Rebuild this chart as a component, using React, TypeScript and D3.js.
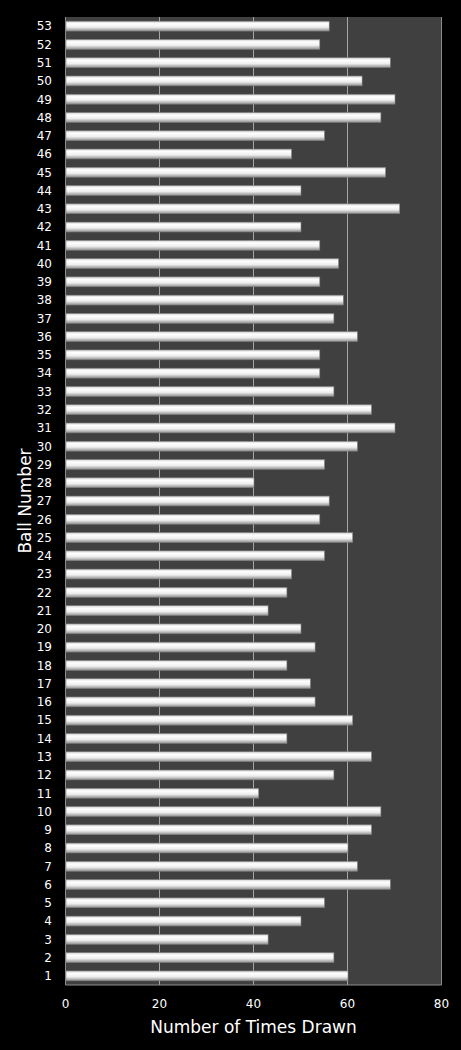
import { useEffect, useRef } from 'react'
import * as d3 from 'd3'

// Ball numbers 1..53 and the number of times each was drawn
const balls = [
  1, 2, 3, 4, 5, 6, 7, 8, 9, 10, 11, 12, 13, 14, 15, 16, 17, 18, 19, 20,
  21, 22, 23, 24, 25, 26, 27, 28, 29, 30, 31, 32, 33, 34, 35, 36, 37, 38, 39, 40,
  41, 42, 43, 44, 45, 46, 47, 48, 49, 50, 51, 52, 53,
]
const timesDrawn = [
  60, 57, 43, 50, 55, 69, 62, 60, 65, 67, 41, 57, 65, 47, 61, 53, 52, 47, 53, 50,
  43, 47, 48, 55, 61, 54, 56, 40, 55, 62, 70, 65, 57, 54, 54, 62, 57, 59, 54, 58,
  54, 50, 71, 50, 68, 48, 55, 67, 70, 63, 69, 54, 56,
]
const xTicks = [0, 20, 40, 60, 80]

const W = 461
const H = 1050
const plot = { left: 65.5, right: 441.5, top: 17, bottom: 985 }
const font = '"DejaVu Sans", Verdana, sans-serif'

export default function App() {
  const svgRef = useRef<SVGSVGElement>(null)

  useEffect(() => {
    if (!svgRef.current) return
    const svg = d3.select(svgRef.current)
    svg.selectAll('*').remove()

    const x = d3.scaleLinear().domain([0, 80]).range([plot.left, plot.right])
    const y = d3.scaleBand<number>()
      .domain([...balls].reverse())
      .range([plot.top, plot.bottom])
      .paddingInner(0.46)
      .paddingOuter(0.23)

    // bar gradient (Excel-like cylinder look)
    const defs = svg.append('defs')
    const grad = defs.append('linearGradient')
      .attr('id', 'barGrad')
      .attr('x1', 0).attr('y1', 0).attr('x2', 0).attr('y2', 1)
    grad.append('stop').attr('offset', '0%').attr('stop-color', '#d0d0d0')
    grad.append('stop').attr('offset', '25%').attr('stop-color', '#ffffff')
    grad.append('stop').attr('offset', '60%').attr('stop-color', '#eeeeee')
    grad.append('stop').attr('offset', '100%').attr('stop-color', '#8f8f8f')

    svg.append('rect')
      .attr('width', W).attr('height', H)
      .attr('fill', '#000')

    // plot area
    svg.append('rect')
      .attr('x', plot.left).attr('y', plot.top)
      .attr('width', plot.right - plot.left)
      .attr('height', plot.bottom - plot.top)
      .attr('fill', '#404040')

    // vertical gridlines
    svg.append('g')
      .selectAll('line')
      .data(xTicks.slice(1))
      .join('line')
      .attr('x1', d => x(d)).attr('x2', d => x(d))
      .attr('y1', plot.top).attr('y2', plot.bottom)
      .attr('stroke', d => (d === 80 ? '#8c8c8c' : '#a6a6a6'))
      .attr('stroke-width', 1)

    // axis lines
    svg.append('line')
      .attr('x1', plot.left).attr('x2', plot.left)
      .attr('y1', plot.top).attr('y2', plot.bottom)
      .attr('stroke', '#8c8c8c')
    svg.append('line')
      .attr('x1', plot.left).attr('x2', plot.right)
      .attr('y1', plot.bottom).attr('y2', plot.bottom)
      .attr('stroke', '#8c8c8c')

    // bars
    svg.append('g')
      .selectAll('rect')
      .data(balls)
      .join('rect')
      .attr('x', x(0) + 0.5)
      .attr('y', d => y(d)!)
      .attr('width', (d, i) => x(timesDrawn[i]) - x(0))
      .attr('height', y.bandwidth())
      .attr('fill', 'url(#barGrad)')
      .attr('stroke', '#808080')
      .attr('stroke-width', 0.6)

    // y tick labels
    svg.append('g')
      .selectAll('text')
      .data(balls)
      .join('text')
      .attr('x', 52)
      .attr('y', d => y(d)! + y.bandwidth() / 2)
      .attr('dy', '0.36em')
      .attr('text-anchor', 'end')
      .attr('fill', '#ffffff')
      .style('font-family', font)
      .style('font-size', '12px')
      .text(d => d)

    // x tick labels
    svg.append('g')
      .selectAll('text')
      .data(xTicks)
      .join('text')
      .attr('x', d => x(d))
      .attr('y', 1008)
      .attr('text-anchor', 'middle')
      .attr('fill', '#ffffff')
      .style('font-family', font)
      .style('font-size', '12px')
      .text(d => d)

    // axis titles
    svg.append('text')
      .attr('x', (plot.left + plot.right) / 2)
      .attr('y', 1033)
      .attr('text-anchor', 'middle')
      .attr('fill', '#ffffff')
      .style('font-family', font)
      .style('font-size', '17px')
      .text('Number of Times Drawn')

    svg.append('text')
      .attr('transform', `translate(31, ${(plot.top + plot.bottom) / 2}) rotate(-90)`)
      .attr('text-anchor', 'middle')
      .attr('fill', '#ffffff')
      .style('font-family', font)
      .style('font-size', '17px')
      .text('Ball Number')
  }, [])

  return (
    <svg
      ref={svgRef}
      width={W}
      height={H}
      style={{ position: 'absolute', left: 0, top: 0, display: 'block', background: '#000' }}
    />
  )
}
